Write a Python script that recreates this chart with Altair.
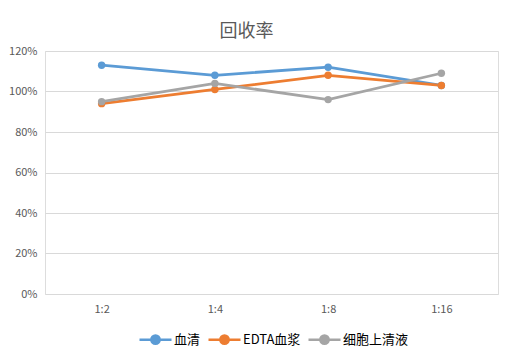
import altair as alt
import pandas as pd

categories = ["1:2", "1:4", "1:8", "1:16"]
series_names = ["血清", "EDTA血浆", "细胞上清液"]
serum = [1.13, 1.08, 1.12, 1.03]
edta = [0.94, 1.01, 1.08, 1.03]
cell = [0.95, 1.04, 0.96, 1.09]
colors = ["#5B9BD5", "#ED7D31", "#A5A5A5"]

rows = []
for name, vals in zip(series_names, [serum, edta, cell]):
    for c, v in zip(categories, vals):
        rows.append({"ratio": c, "value": v, "series": name})
df = pd.DataFrame(rows)

FONT = "Noto Sans CJK SC"

color = alt.Color(
    "series:N",
    scale=alt.Scale(domain=series_names, range=colors),
    sort=series_names,
    legend=alt.Legend(
        title=None,
        orient="none",
        direction="horizontal",
        legendX=93,
        legendY=271,
        symbolType="M-1,0L1,0M0.26,0A0.26,0.26,0,1,1,-0.26,0A0.26,0.26,0,1,1,0.26,0",
        symbolSize=1024,
        symbolStrokeWidth=2.5,
        labelFont=FONT,
        labelFontSize=13,
        labelColor="#000000",
        labelOffset=1,
        columnPadding=2,
    ),
)

x = alt.X(
    "ratio:N",
    sort=categories,
    scale=alt.Scale(type="point", padding=0.5),
    axis=alt.Axis(
        title=None, labelAngle=0, domain=False, ticks=False, grid=False,
        labelFont=FONT, labelFontSize=11, labelColor="#595959", labelPadding=9,
    ),
)
y = alt.Y(
    "value:Q",
    scale=alt.Scale(domain=[0, 1.2], nice=False),
    axis=alt.Axis(
        title=None, values=[0, 0.2, 0.4, 0.6, 0.8, 1.0, 1.2], format=".0%",
        domain=False, ticks=False, gridColor="#D9D9D9", gridWidth=1,
        labelFont=FONT, labelFontSize=11, labelColor="#595959", labelPadding=8,
    ),
)

base = alt.Chart(df)
lines = base.mark_line(strokeWidth=2.75).encode(x=x, y=y, color=color)
points = base.mark_point(filled=True, size=55, opacity=1).encode(
    x=x, y=y, color=alt.Color("series:N", scale=alt.Scale(domain=series_names, range=colors), legend=None)
)

chart = (
    alt.layer(lines, points)
    .properties(
        width=453,
        height=243,
        title=alt.TitleParams(
            "回收率", font=FONT, fontSize=18, fontWeight="normal", color="#595959",
            anchor="middle", dx=-25, offset=4,
        ),
        autosize=alt.AutoSizeParams(type="none"),
        padding={"left": 37, "top": 43, "right": 5, "bottom": 62},
    )
    .configure_view(stroke="transparent", strokeWidth=0)
    .configure_axis(domain=False)
    .configure_axisX(grid=False)
    .configure(background="#FFFFFF")
)

chart.save("out.html", embed_options={"renderer": "svg", "actions": False})
